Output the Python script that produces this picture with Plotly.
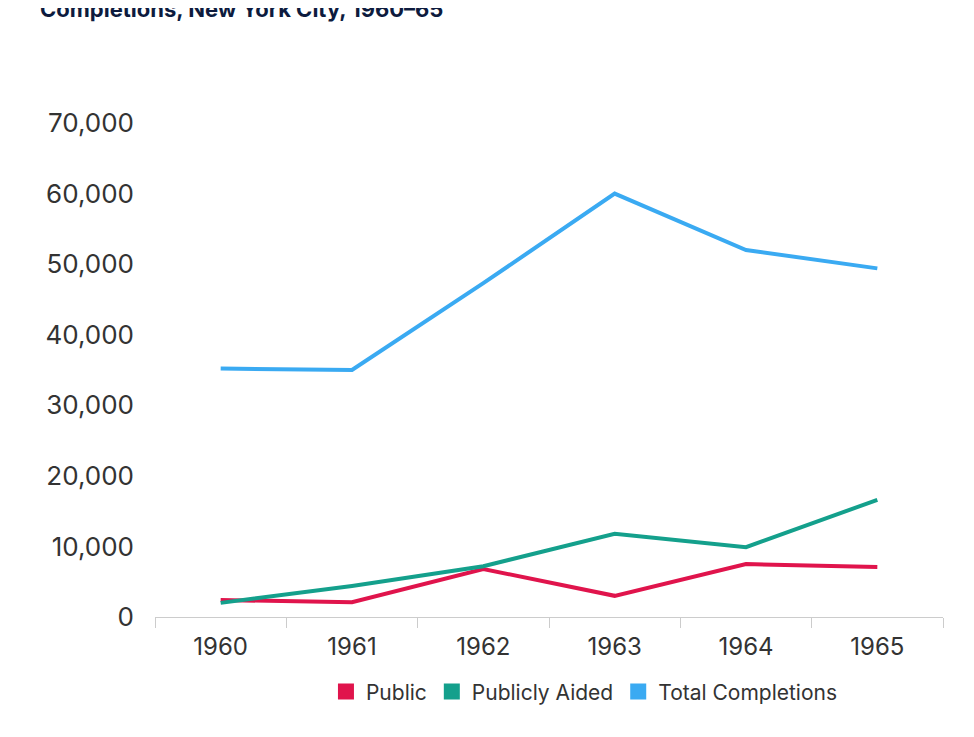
import plotly.graph_objects as go

years = ["1960", "1961", "1962", "1963", "1964", "1965"]
public = [2400, 2100, 6800, 3000, 7500, 7100]
aided = [2000, 4400, 7200, 11800, 9900, 16600]
total = [35200, 35000, 47300, 60000, 52000, 49400]
names = ["Public", "Publicly Aided", "Total Completions"]
colors = ["#e0144c", "#14a08c", "#3aaaf2"]

fig = go.Figure()
for n, vals, c in zip(names, [public, aided, total], colors):
    fig.add_trace(go.Scatter(x=years, y=vals, name=n, mode="lines", showlegend=False,
                             line=dict(color=c, width=4)))
for n, c in zip(names, colors):
    fig.add_trace(go.Scatter(x=[None], y=[None], name=n, mode="markers",
                             marker=dict(symbol="square", size=18, color=c)))

fig.update_layout(
    width=974, height=737, paper_bgcolor="white", plot_bgcolor="white",
    margin=dict(l=147, r=39, t=115, b=128),
    font=dict(family="Inter, Roboto, sans-serif", color="#333333"),
    showlegend=True,
    legend=dict(orientation="h", x=0.545, xanchor="center", y=-0.11, yanchor="top",
                font=dict(size=21, color="#333333")),
    annotations=[dict(text="<b>Public, Publicly Aided, and Total Housing<br>Completions, New York City, 1960–65</b>",
                      xref="paper", yref="paper", x=-0.148, y=1.2, xanchor="left", yanchor="bottom",
                      align="left", showarrow=False, font=dict(size=22, color="#0d1b3e"))],
)
fig.update_xaxes(type="category", range=[-0.5, 5.5], showline=True, linecolor="#cccccc",
                 ticks="outside", tickson="boundaries", ticklen=10, tickcolor="#cccccc",
                 tickfont=dict(size=24, color="#333333"), showgrid=False, ticklabelstandoff=8)
fig.update_yaxes(range=[0, 70000], dtick=10000, tickformat=",", showgrid=False, zeroline=False,
                 showline=False, tickfont=dict(size=26, color="#333333"), ticklabelstandoff=20)

fig.write_html("out.html")
